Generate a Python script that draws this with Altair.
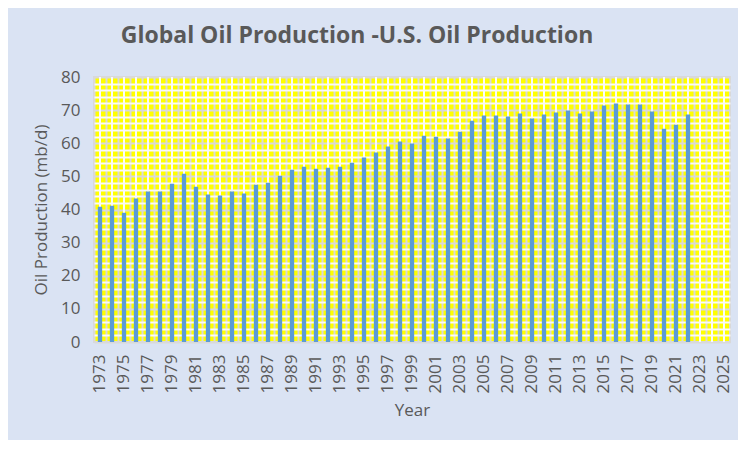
import altair as alt
import pandas as pd

# Global oil production minus U.S. production, million barrels per day
years = list(range(1973, 2026))
production = [
    40.8, 41.1, 39.0, 43.3, 45.4, 45.4, 47.8, 50.8, 46.9, 44.5,
    44.2, 45.4, 44.8, 47.5, 48.1, 50.2, 52.0, 52.9, 52.3, 52.6,
    52.9, 54.1, 55.7, 57.2, 59.0, 60.5, 59.9, 62.3, 62.0, 61.4,
    63.5, 66.8, 68.4, 68.4, 68.1, 69.0, 67.5, 68.7, 69.3, 69.9,
    69.0, 69.6, 71.4, 72.0, 71.7, 71.7, 69.6, 64.4, 65.6, 68.7,
    None, None, None,
]
y_ticks = list(range(0, 81, 2))

df = pd.DataFrame({"year": [str(y) for y in years], "production": production})

font = "Open Sans"
grey = "#595959"

x_enc = alt.X(
    "year:O",
    title="Year",
    scale=alt.Scale(paddingInner=0, paddingOuter=0),
    axis=alt.Axis(
        labelAngle=-90,
        labelExpr="(+datum.value) % 2 == 1 ? datum.label : ''",
        labelOverlap=False,
        labelPadding=12,
        grid=True,
        gridColor="#d9d9d9",
        gridWidth=2,
        bandPosition=0,
        ticks=False,
        domain=False,
        titlePadding=10,
    ),
)

y_enc = alt.Y(
    "production:Q",
    title="Oil Production (mb/d)",
    scale=alt.Scale(domain=[0, 80], nice=False),
    axis=alt.Axis(
        values=y_ticks,
        labelExpr="datum.value % 10 == 0 ? datum.label : ''",
        labelOverlap=False,
        labelPadding=14,
        gridColor={"condition": {"test": "datum.value % 10 == 0", "value": "#d9d9d9"},
                   "value": "#fafafa"},
        gridWidth=2,
        ticks=False,
        domain=False,
        titlePadding=10,
    ),
)

# white stripes through the middle of each category (the pattern fill)
stripes = alt.Chart(df).mark_rule(color="#fafafa", strokeWidth=2).encode(x=x_enc)

bars = alt.Chart(df).mark_bar(
    color="#5b9bd5", width=alt.RelativeBandSize(0.36)
).encode(
    x=x_enc,
    y=y_enc,
    tooltip=["year", "production"],
)

chart = alt.layer(stripes, bars).properties(
    title=alt.TitleParams(
        "Global Oil Production -U.S. Oil Production",
        font=font, fontSize=23, fontWeight="bold", color=grey,
        dx=-55, offset=20,
    ),
    width=636,
    height=265,
    autosize="none",
    padding={"left": 86, "top": 69, "right": 8, "bottom": 98},
    background="#dae3f3",
).configure_view(
    fill="#ffff00", stroke="#d9d9d9", strokeWidth=2
).configure_axis(
    labelFont=font, labelFontSize=17, labelColor=grey,
    titleFont=font, titleFontSize=17, titleColor=grey, titleFontWeight="normal",
)

chart.save("out.html", embed_options={"renderer": "svg", "actions": False})
